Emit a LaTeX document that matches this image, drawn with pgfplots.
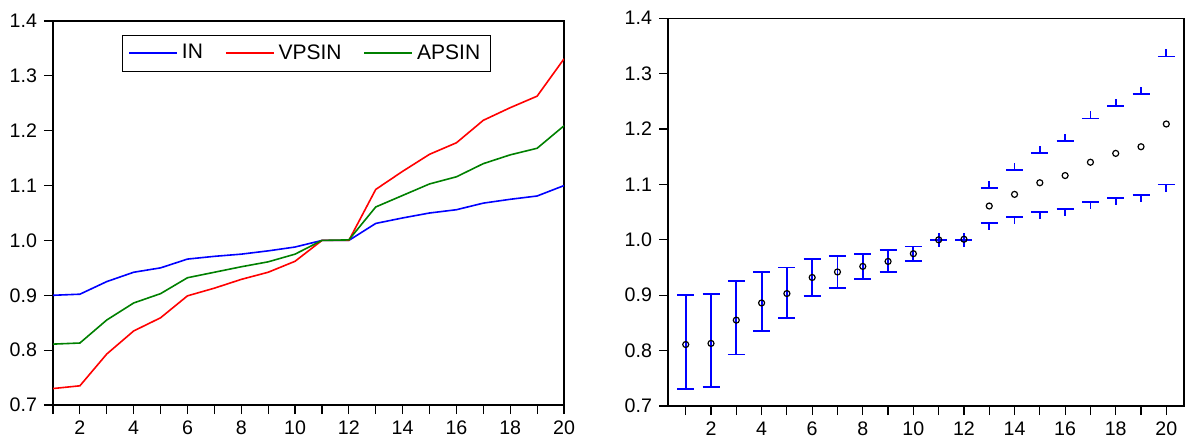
\documentclass[border=0pt]{standalone}
\usepackage{fontspec}
\setmainfont{Liberation Sans}
\usepackage{pgfplots}
\usepackage{pgfplotstable}
\pgfplotsset{compat=1.18}

% cap with short stub up / down (EViews high-low style)
\pgfdeclareplotmark{capup}{%
  \pgfpathmoveto{\pgfqpoint{-\pgfplotmarksize}{0pt}}%
  \pgfpathlineto{\pgfqpoint{\pgfplotmarksize}{0pt}}%
  \pgfpathmoveto{\pgfqpoint{0pt}{0pt}}%
  \pgfpathlineto{\pgfqpoint{0pt}{3.6pt}}%
  \pgfusepathqstroke}
\pgfdeclareplotmark{capdown}{%
  \pgfpathmoveto{\pgfqpoint{-\pgfplotmarksize}{0pt}}%
  \pgfpathlineto{\pgfqpoint{\pgfplotmarksize}{0pt}}%
  \pgfpathmoveto{\pgfqpoint{0pt}{0pt}}%
  \pgfpathlineto{\pgfqpoint{0pt}{-3.6pt}}%
  \pgfusepathqstroke}

\pgfplotstableread{
x  in    vp    ap
1  0.900 0.730 0.811
2  0.902 0.735 0.813
3  0.925 0.793 0.855
4  0.942 0.835 0.886
5  0.950 0.859 0.903
6  0.966 0.899 0.932
7  0.971 0.913 0.942
8  0.975 0.929 0.952
9  0.981 0.942 0.961
10 0.988 0.962 0.975
11 1.000 1.000 1.000
12 1.000 1.000 1.001
13 1.031 1.093 1.061
14 1.041 1.126 1.082
15 1.050 1.157 1.103
16 1.056 1.178 1.116
17 1.068 1.219 1.140
18 1.075 1.242 1.156
19 1.081 1.263 1.168
20 1.100 1.331 1.209
}\data

\definecolor{evblue}{RGB}{0,0,255}
\definecolor{evred}{RGB}{255,0,0}
\definecolor{evgreen}{RGB}{0,128,0}

\pgfplotsset{
  base/.style={
    scale only axis,
    anchor=south west,
    axis line style={line width=0.6pt},
    tick style={black, line width=0.6pt},
    major tick length=4.5pt,
    tick align=outside,
    xtick pos=bottom, ytick pos=left,
    ymin=0.7, ymax=1.4,
    ytick={0.7,0.8,0.9,1.0,1.1,1.2,1.3,1.4},
    xtick={1,...,20},
    xticklabels={,2,,4,,6,,8,,10,,12,,14,,16,,18,,20},
    yticklabel style={/pgf/number format/fixed, /pgf/number format/fixed zerofill, /pgf/number format/precision=1},
    /pgf/number format/assume math mode=true,
    ticklabel style={font=\fontsize{9.8}{11}\selectfont},
  },
}

\begin{document}
\begin{tikzpicture}
\path[use as bounding box] (0,0) rectangle (593pt,219.5pt);

\begin{axis}[base,
  at={(26.5pt,17pt)}, width=255.5pt, height=192pt,
  xmin=1, xmax=20,
  legend columns=3,
  legend cell align=left,
  legend image code/.code={\draw[#1] plot coordinates {(0pt,0pt) (24pt,0pt)};},
  legend style={at={(0.135,0.9635)}, anchor=north west,
    font=\fontsize{10.5}{12}\selectfont, inner xsep=3pt, inner ysep=2.5pt,
    /tikz/every even column/.append style={column sep=9pt}},
]
\addplot[evblue, line width=0.8pt] table[x=x, y=in] {\data};
\addlegendentry{IN}
\addplot[evred, line width=0.8pt] table[x=x, y=vp] {\data};
\addlegendentry{VPSIN}
\addplot[evgreen, line width=0.8pt] table[x=x, y=ap] {\data};
\addlegendentry{APSIN}
\end{axis}

\begin{axis}[base,
  at={(334pt,16.5pt)}, width=258pt, height=193.9pt,
  xmin=0.3, xmax=20.7,
]
% full high-low bars where IN lies above VPSIN
\addplot[draw=none, mark=none, restrict x to domain=1:10,
  error bars/.cd, y dir=both, y explicit,
  error bar style={evblue, line width=0.9pt},
  error mark options={evblue, line width=0.9pt, mark size=4.25pt, rotate=90}]
  table[x=x, y=vp, y error plus expr=\thisrow{in}-\thisrow{vp}, y error minus expr=0] {\data};
% caps with outward stubs where VPSIN is at or above IN
\addplot[only marks, mark=capup, mark size=4.25pt, evblue, mark options={line width=0.9pt},
  restrict x to domain=11:20] table[x=x, y=vp] {\data};
\addplot[only marks, mark=capdown, mark size=4.25pt, evblue, mark options={line width=0.9pt},
  restrict x to domain=11:20] table[x=x, y=in] {\data};
% APSIN as open circles
\addplot[only marks, mark=o, mark size=1.5pt, black, mark options={line width=0.6pt}]
  table[x=x, y=ap] {\data};
\end{axis}
\end{tikzpicture}
\end{document}
